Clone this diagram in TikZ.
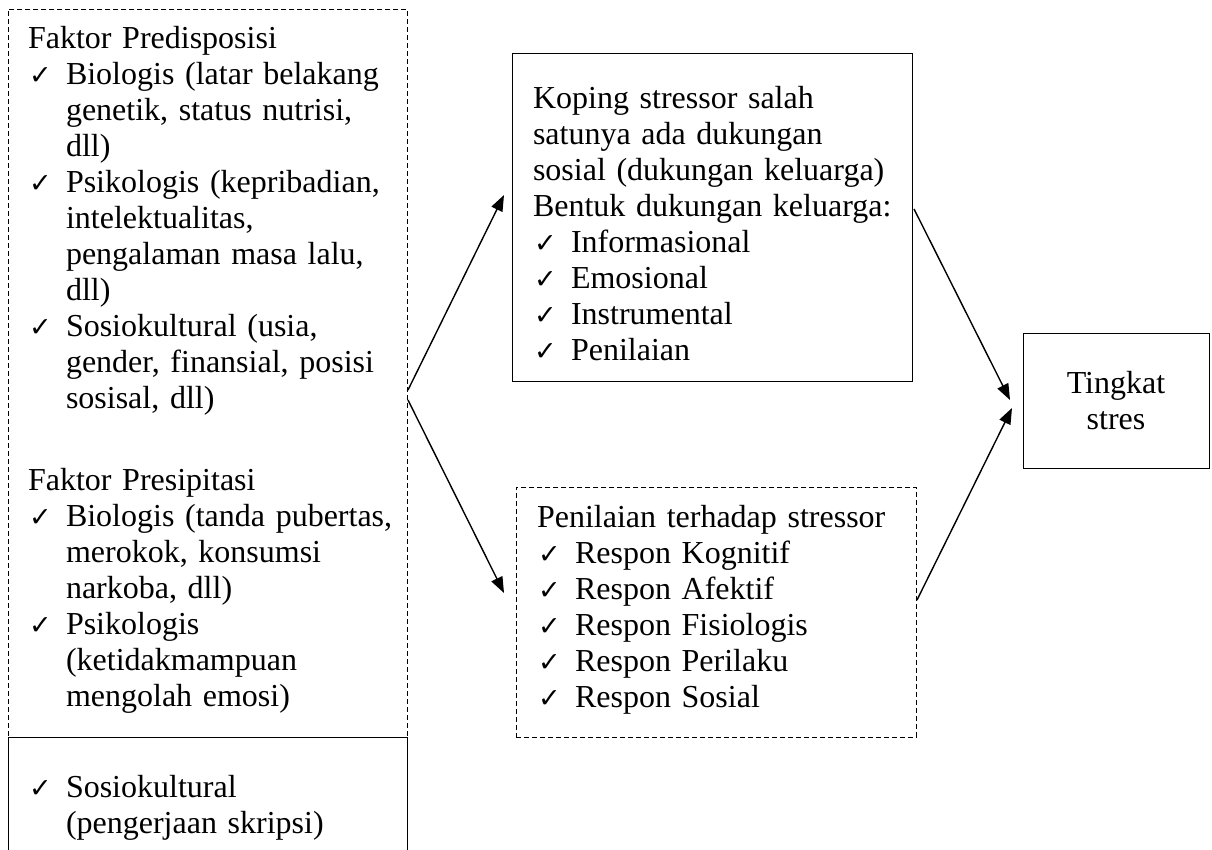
\documentclass[tikz,border=0pt]{standalone}
\usepackage{fontspec}
\setmainfont{Liberation Serif}
\newfontfamily\simbol{DejaVu Sans}
\usetikzlibrary{arrows.meta,calc}
\newcommand{\centang}{\makebox[38pt][l]{\hspace{1pt}\simbol\fontsize{27}{27}\selectfont ✓}}
\newcommand{\butir}[1]{\par\noindent\hangindent=38pt\hangafter=1\centang#1\par}

\begin{document}
\begin{tikzpicture}[x=1pt,y=-1pt]
\tikzstyle{every node}+=[inner sep=0pt, outer sep=0pt]
\tikzstyle{kotak}=[draw, line width=1pt, anchor=north west]
\tikzstyle{kotakputus}=[kotak, dash pattern=on 5pt off 3pt]
\tikzstyle{teks}=[anchor=north west, text width=420pt, font=\fontsize{32}{36}\selectfont]
\tikzstyle{panah}=[line width=1.4pt, -{Triangle[length=16pt,width=12pt]}]
\useasboundingbox (0,0) rectangle (1212,849);
\clip (0,0) rectangle (1212,849);
\fill[white] (0,0) rectangle (1212,849);
\node[kotakputus, minimum width=399pt, minimum height=728pt] (faktor) at (8,9) {};
\node[kotak, minimum width=399pt, minimum height=140pt] (skripsi) at (8,737) {};
\node[kotak, minimum width=400pt, minimum height=328pt] (koping) at (512,53) {};
\node[kotakputus, minimum width=400pt, minimum height=250pt] (penilaian) at (516,487) {};
\node[kotak, minimum width=186pt, minimum height=135pt, align=center, font=\fontsize{32}{36}\selectfont] (tingkat) at (1023,333) {Tingkat\\stres};
\node[teks] (predisposisi) at (28,22.8) {\strut Faktor Predisposisi
  \butir{Biologis (latar belakang\newline genetik, status nutrisi,\newline dll)}
  \butir{Psikologis (kepribadian,\newline intelektualitas,\newline pengalaman masa lalu,\newline dll)}
  \butir{Sosiokultural (usia,\newline gender, finansial, posisi\newline sosisal, dll)}};
\node[teks] (presipitasi) at (28,464.8) {\strut Faktor Presipitasi
  \butir{Biologis (tanda pubertas,\newline merokok, konsumsi\newline narkoba, dll)}
  \butir{Psikologis\newline (ketidakmampuan\newline mengolah emosi)}};
\node[teks] (skripsiteks) at (28,761.8) {\butir{\strut Sosiokultural\newline (pengerjaan skripsi)}};
\node[teks] (kopingteks) at (533,82.8) {\strut Koping stressor salah\newline satunya ada dukungan\newline sosial (dukungan keluarga)\newline Bentuk dukungan keluarga:
  \butir{Informasional}
  \butir{Emosional}
  \butir{Instrumental}
  \butir{Penilaian}};
\node[teks] (penilaianteks) at (537,501.8) {\strut Penilaian terhadap stressor
  \butir{Respon Kognitif}
  \butir{Respon Afektif}
  \butir{Respon Fisiologis}
  \butir{Respon Perilaku}
  \butir{Respon Sosial}};
\draw[panah] ($(faktor.north east)+(1,381)$) -- ($(koping.north west)+(-8,142)$);
\draw[panah] ($(faktor.north east)+(1,391)$) -- ($(penilaian.north west)+(-12,106)$);
\draw[panah] ($(koping.north east)+(2,156)$) -- ($(tingkat.north west)+(-13,67)$);
\draw[panah] ($(penilaian.north east)+(1,113)$) -- ($(tingkat.north west)+(-11,75)$);
\end{tikzpicture}
\end{document}
